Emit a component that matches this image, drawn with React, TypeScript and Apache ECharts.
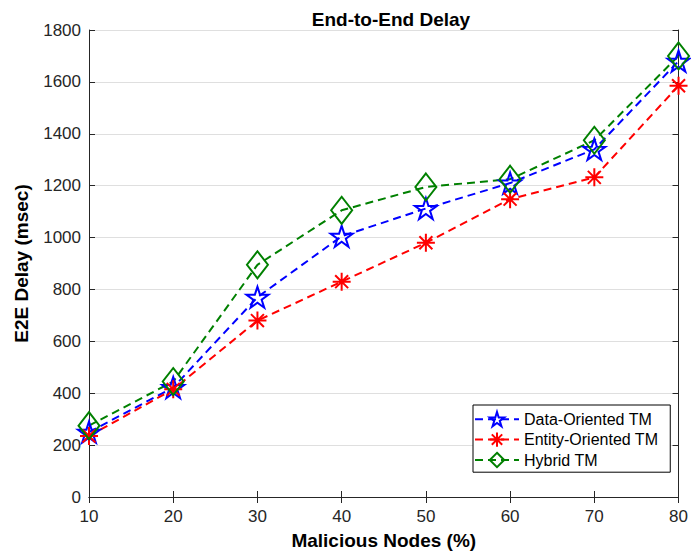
import React, { useEffect, useRef } from "react";
import * as echarts from "echarts";

const categories = [10, 20, 30, 40, 50, 60, 70, 80];
const dataOriented = [250, 422, 770, 1005, 1112, 1210, 1340, 1680];
const entityOriented = [235, 415, 680, 830, 980, 1148, 1232, 1585];
const hybrid = [275, 445, 895, 1105, 1195, 1225, 1375, 1700];
const yTicks = { min: 0, max: 1800, interval: 200 };

function starPath(): string {
  const pts: string[] = [];
  for (let i = 0; i < 10; i++) {
    const r = i % 2 === 0 ? 1 : 0.382;
    const a = -Math.PI / 2 + (i * Math.PI) / 5;
    pts.push(`${(r * Math.cos(a)).toFixed(3)},${(r * Math.sin(a)).toFixed(3)}`);
  }
  return "path://M" + pts.join("L") + "Z";
}
const STAR = starPath();
const ASTER = "path://M0,-1L0,1M-1,0L1,0M-0.72,-0.72L0.72,0.72M-0.72,0.72L0.72,-0.72";
const DIAMOND = "path://M0,-1L1,0L0,1L-1,0Z";

export default function App() {
  const ref = useRef<HTMLDivElement>(null);
  useEffect(() => {
    if (!ref.current) return;
    const chart = echarts.init(ref.current, undefined, { renderer: "svg" });
    const font = "Liberation Sans, Arial, sans-serif";
    const axisColor = "#262626";
    const mk = (name: string, data: number[], color: string, symbol: string, size: number | number[]) => ({
      name,
      type: "line",
      data: categories.map((c, i) => [c, data[i]]),
      symbol,
      symbolSize: size,
      lineStyle: { color, width: 2, type: [8, 5] },
      itemStyle: { color: "rgba(0,0,0,0)", borderColor: color, borderWidth: 2 },
      emphasis: { disabled: true },
      z: 3,
    });
    chart.setOption({
      animation: false,
      textStyle: { fontFamily: font },
      title: {
        text: "End-to-End Delay",
        left: 386,
        textAlign: "center",
        top: 5,
        textStyle: { fontSize: 19, fontWeight: "bold", color: "#000", fontFamily: font },
      },
      grid: { left: 89, right: 9, top: 30, bottom: 61 },
      legend: {
        orient: "vertical",
        left: 473,
        top: 405,
        backgroundColor: "#fff",
        borderColor: "#000",
        borderWidth: 1,
        borderRadius: 0,
        padding: [6, 12, 4, 1],
        itemWidth: 44,
        itemHeight: 18,
        itemGap: 4,
        textStyle: { fontSize: 16, color: "#000", fontFamily: font },
        data: ["Data-Oriented TM", "Entity-Oriented TM", "Hybrid TM"],
      },
      xAxis: [
        {
          type: "value",
          min: 10,
          max: 80,
          interval: 10,
          name: "Malicious Nodes (%)",
          nameLocation: "middle",
          nameGap: 34,
          nameTextStyle: { fontSize: 19, fontWeight: "bold", color: "#000", fontFamily: font },
          axisLine: { show: true, lineStyle: { color: axisColor, width: 1 } },
          axisTick: { show: true, inside: true, length: 6, lineStyle: { color: axisColor } },
          axisLabel: { fontSize: 17, color: axisColor, margin: 11, fontFamily: font },
          splitLine: { show: false },
        },
        {
          type: "value",
          position: "top",
          min: 10,
          max: 80,
          interval: 10,
          axisLine: { show: true, lineStyle: { color: axisColor, width: 1 } },
          axisTick: { show: true, inside: true, length: 6, lineStyle: { color: axisColor } },
          axisLabel: { show: false },
          splitLine: { show: false },
        },
      ],
      yAxis: [
        {
          type: "value",
          ...yTicks,
          name: "E2E Delay (msec)",
          nameLocation: "middle",
          nameGap: 58,
          nameTextStyle: { fontSize: 19, fontWeight: "bold", color: "#000", fontFamily: font },
          axisLine: { show: true, lineStyle: { color: axisColor, width: 1 } },
          axisTick: { show: true, inside: true, length: 6, lineStyle: { color: axisColor } },
          axisLabel: {
            fontSize: 17,
            color: axisColor,
            margin: 8,
            fontFamily: font,
            formatter: (v: number) => String(v),
          },
          splitLine: { show: true, lineStyle: { color: "#dfdfdf", width: 1 } },
        },
        {
          type: "value",
          position: "right",
          ...yTicks,
          axisLine: { show: true, lineStyle: { color: axisColor, width: 1 } },
          axisTick: { show: true, inside: true, length: 6, lineStyle: { color: axisColor } },
          axisLabel: { show: false },
          splitLine: { show: false },
        },
      ],
      series: [
        mk("Data-Oriented TM", dataOriented, "#0000ff", STAR, [22, 21]),
        mk("Entity-Oriented TM", entityOriented, "#ff0000", ASTER, 18),
        mk("Hybrid TM", hybrid, "#008000", DIAMOND, [21, 27]),
      ],
    });
    return () => chart.dispose();
  }, []);
  return (
    <div
      ref={ref}
      style={{ position: "fixed", left: 0, top: 0, width: 691, height: 558, background: "#fff" }}
    />
  );
}
